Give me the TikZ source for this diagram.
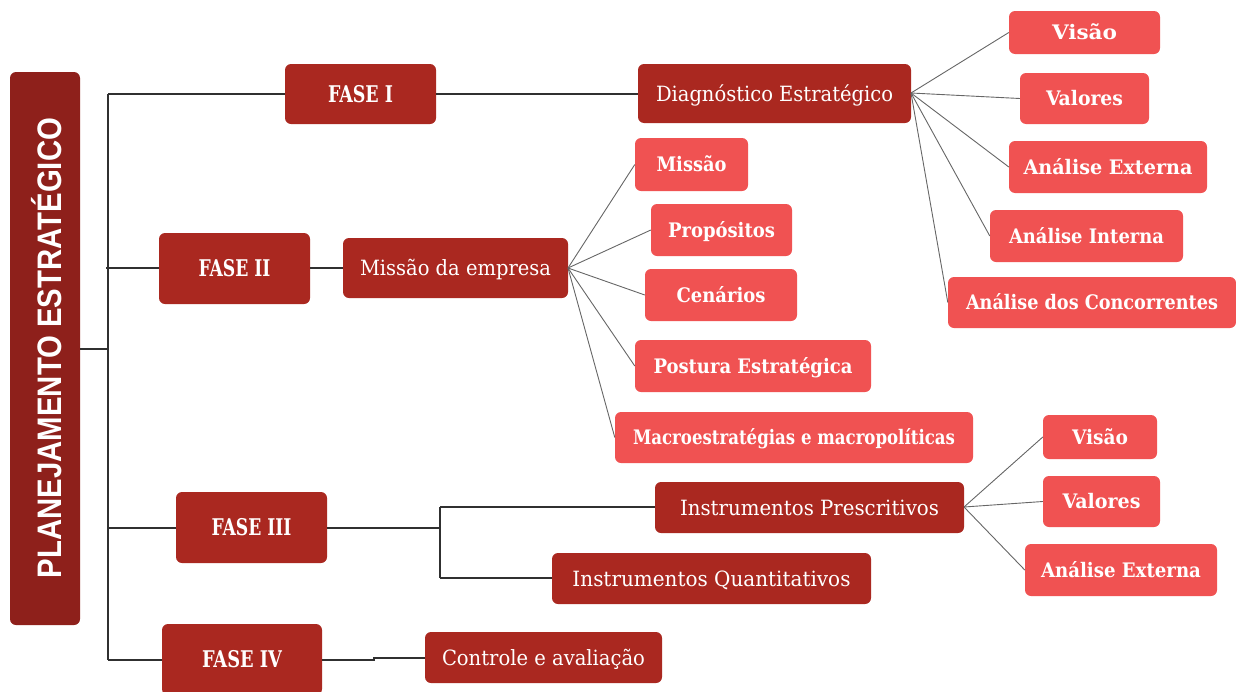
\documentclass[tikz,border=0pt]{standalone}
\usepackage{fontspec}
\usepackage{graphicx}
\newfontfamily\boxfont{DejaVu Serif Condensed}
\newfontfamily\labfont{Liberation Sans}
\definecolor{mainred}{HTML}{8E201B}
\definecolor{darkred}{HTML}{AA2820}
\definecolor{lightred}{HTML}{F05252}
\definecolor{lnk}{HTML}{303030}
\definecolor{fan}{HTML}{666666}
\newcommand{\fw}[2]{\resizebox{#1pt}{\height}{#2}}
\tikzset{
  x=1pt, y=-1pt,
  basebox/.style={rounded corners=6pt, inner sep=0pt, text=white, anchor=center},
  mainbox/.style={basebox, fill=mainred},
  fasebox/.style={basebox, fill=darkred, font=\boxfont\bfseries\fontsize{23}{26}\selectfont, text height=17pt, text depth=0.2pt},
  dbox/.style={basebox, fill=darkred, font=\boxfont\fontsize{21}{24}\selectfont, text height=15.5pt, text depth=0.2pt},
  lbox/.style={basebox, fill=lightred, font=\boxfont\bfseries\fontsize{20}{23}\selectfont, text height=14.8pt, text depth=0.2pt},
  link/.style={draw=lnk, line width=1.1pt},
  fanline/.style={draw=fan, line width=0.9pt}
}
% \bx{style}{name}{x1}{y1}{x2}{y2}{textwidth}{text}
\newcommand{\bx}[8]{%
  \pgfmathsetmacro{\bw}{#5-#3}\pgfmathsetmacro{\bh}{#6-#4}%
  \pgfmathsetmacro{\cx}{(#3+#5)/2}\pgfmathsetmacro{\cy}{(#4+#6)/2}%
  \node[#1, minimum width=\bw pt, minimum height=\bh pt] (#2) at (\cx,\cy) {\fw{#7}{#8}};}
\begin{document}
\begin{tikzpicture}
\useasboundingbox (0,0) rectangle (1236,691);
% main box
\node[mainbox, minimum width=70pt, minimum height=553pt] (main) at (45,348.5) {};
\node[rotate=90, text=white, inner sep=0pt, font=\labfont\bfseries\fontsize{34}{36}\selectfont] (mainlab) at (47,348) {\fw{460}{PLANEJAMENTO ESTRATÉGICO}};
% phases
\bx{fasebox}{f1}{285}{64}{436}{124}{65}{FASE I}
\bx{fasebox}{f2}{159}{233}{310}{304}{72}{FASE II}
\bx{fasebox}{f3}{176}{492}{327}{563}{80}{FASE III}
\bx{fasebox}{f4}{162}{624}{322}{695}{80}{FASE IV}
% second level
\bx{dbox}{diag}{638}{64}{911}{123}{237}{Diagnóstico Estratégico}
\bx{dbox}{miss}{343}{238}{568}{298}{191}{Missão da empresa}
\bx{dbox}{ipres}{655}{482}{964}{533}{259}{Instrumentos Prescritivos}
\bx{dbox}{iquant}{552}{553}{871}{604}{278}{Instrumentos Quantitativos}
\bx{dbox}{ctrl}{425}{632}{662}{683}{203}{Controle e avaliação}
% leaves of Diagnóstico
\bx{lbox}{visA}{1009}{11}{1160}{54}{65}{Visão}
\bx{lbox}{valA}{1020}{73}{1149}{124}{77}{Valores}
\bx{lbox}{extA}{1009}{141}{1207}{193}{169}{Análise Externa}
\bx{lbox}{intA}{990}{210}{1183}{262}{155}{Análise Interna}
\bx{lbox}{conA}{948}{277}{1236}{328}{252}{Análise dos Concorrentes}
% leaves of Missão da empresa
\bx{lbox}{missL}{635}{138}{748}{191}{70}{Missão}
\bx{lbox}{prop}{651}{204}{792}{256}{107}{Propósitos}
\bx{lbox}{cen}{645}{269}{797}{321}{89}{Cenários}
\bx{lbox}{post}{635}{340}{871}{392}{199}{Postura Estratégica}
\bx{lbox}{macro}{615}{412}{973}{463}{322}{Macroestratégias e macropolíticas}
% leaves of Instrumentos Prescritivos
\bx{lbox}{visB}{1043}{415}{1157}{459}{56}{Visão}
\bx{lbox}{valB}{1043}{476}{1160}{527}{78}{Valores}
\bx{lbox}{extB}{1025}{544}{1217}{596}{160}{Análise Externa}
% trunk connectors
\coordinate (j0) at (108,349);
\draw[link] (main.east |- j0) -- (j0);
\draw[link] (108,94) -- (108,660);
\draw[link] (108,94) -- (f1.west |- 0,94);
\draw[link] (106,268) -- (f2.west |- 0,268);
\draw[link] (108,528) -- (f3.west |- 0,528);
\draw[link] (108,660) -- (f4.west |- 0,660);
% phase to second level
\draw[link] (f1.east |- 0,94) -- (diag.west |- 0,94);
\draw[link] (f2.east |- 0,268) -- (miss.west |- 0,268);
\coordinate (j3) at (440,528);
\draw[link] (f3.east |- j3) -- (j3);
\draw[link] (440,507) -- (440,578);
\draw[link] (440,507) -- (ipres.west |- 0,507);
\draw[link] (440,578) -- (iquant.west |- 0,578);
\coordinate (j4) at (374,660);
\draw[link] (f4.east |- j4) -- (j4) -- (374,658) -- (ctrl.west |- 0,658);
% fans
\coordinate (dA) at (911,93);
\foreach \t in {visA,valA,extA,intA,conA} \draw[fanline] (dA) -- (\t.west);
\coordinate (mA) at (568,268);
\foreach \t in {missL,prop,cen,post,macro} \draw[fanline] (mA) -- (\t.west);
\coordinate (pA) at (964,507);
\foreach \t in {visB,valB,extB} \draw[fanline] (pA) -- (\t.west);
\end{tikzpicture}
\end{document}
